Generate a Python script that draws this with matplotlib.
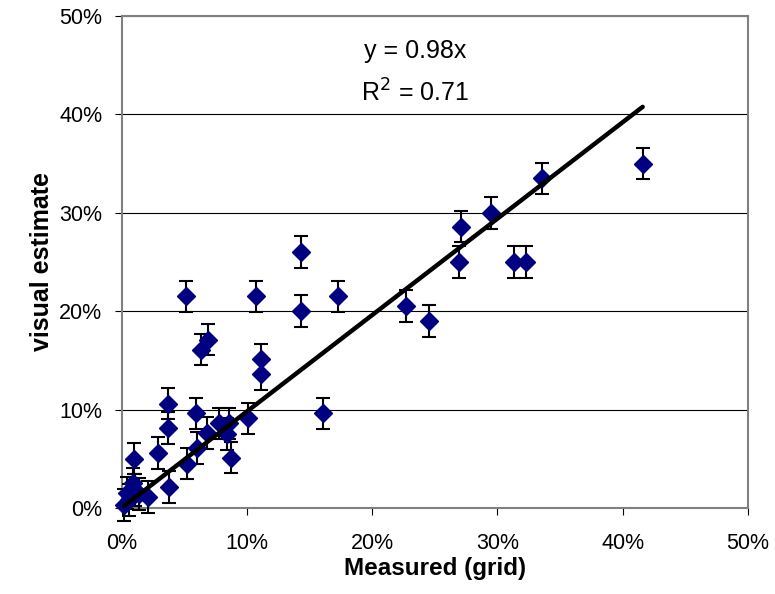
import matplotlib
matplotlib.use("Agg")
import matplotlib.pyplot as plt
import numpy as np
from matplotlib.ticker import FuncFormatter

plt.rcParams.update({
    "font.family": ["Liberation Sans", "DejaVu Sans"],
    "figure.facecolor": "white",
    "axes.facecolor": "white",
})

# measured (grid) vs visual estimate, in percent
measured = [0.2, 0.4, 0.6, 0.9, 1.1, 1.4, 2.1, 1.0, 2.9, 3.8, 3.7, 3.7,
            5.1, 5.2, 5.9, 6.0, 6.8, 6.3, 6.9, 7.8, 8.6, 8.4, 8.7, 10.1,
            10.7, 11.1, 11.1, 14.3, 14.3, 16.1, 17.3, 22.7, 24.5, 26.9,
            27.1, 29.5, 31.3, 32.3, 33.6, 41.6]
visual = [0.3, 1.5, 0.8, 2.5, 1.8, 1.4, 1.1, 5.0, 5.6, 2.1, 10.6, 8.1,
          21.5, 4.5, 9.6, 6.1, 7.6, 16.1, 17.1, 8.6, 8.6, 7.5, 5.1, 9.1,
          21.5, 15.1, 13.6, 26.0, 20.0, 9.6, 21.5, 20.5, 19.0, 25.0,
          28.6, 30.0, 25.0, 25.0, 33.5, 35.0]
err = 1.6
slope = 0.98
r2 = 0.71

fig = plt.figure(figsize=(7.75, 5.94), dpi=100)
ax = fig.add_axes([0.157, 0.145, 0.808, 0.828])

x = np.array(measured)
y = np.array(visual)

ax.errorbar(x, y, yerr=err, fmt="none", ecolor="black", elinewidth=1.5,
            capsize=5, capthick=1.5, zorder=3, clip_on=False)
ax.plot(x, y, linestyle="none", marker="D", markersize=9,
        color="#000080", zorder=4, clip_on=False)

# fitted line through the origin, drawn up to the largest measured value
xl = np.array([0, x.max()])
ax.plot(xl, slope * xl, color="black", linewidth=3.2, zorder=5,
        solid_capstyle="round")

ax.set_xlim(0, 50)
ax.set_ylim(0, 50)
ticks = np.arange(0, 51, 10)
ax.set_xticks(ticks)
ax.set_yticks(ticks)
pct = FuncFormatter(lambda v, p: f"{v:.0f}%")
ax.xaxis.set_major_formatter(pct)
ax.yaxis.set_major_formatter(pct)
ax.tick_params(direction="out", length=5, labelsize=15.5, color="black")
ax.tick_params(axis="x", pad=13)
ax.tick_params(axis="y", pad=9)

ax.yaxis.grid(True, color="black", linewidth=0.8)
ax.set_axisbelow(True)
for s in ax.spines.values():
    s.set_color("#808080")
    s.set_linewidth(1.5)

ax.set_xlabel("Measured (grid)", fontsize=17.5, fontweight="bold", labelpad=2)
ax.set_ylabel("visual estimate", fontsize=18, fontweight="bold", labelpad=4)

ax.text(23.4, 45.7, f"y = {slope}x", fontsize=18, ha="center", va="baseline")
ax.text(23.4, 41.3, f"R$^2$ = {r2}", fontsize=18, ha="center", va="baseline")

fig.savefig("out.png", dpi=100)
